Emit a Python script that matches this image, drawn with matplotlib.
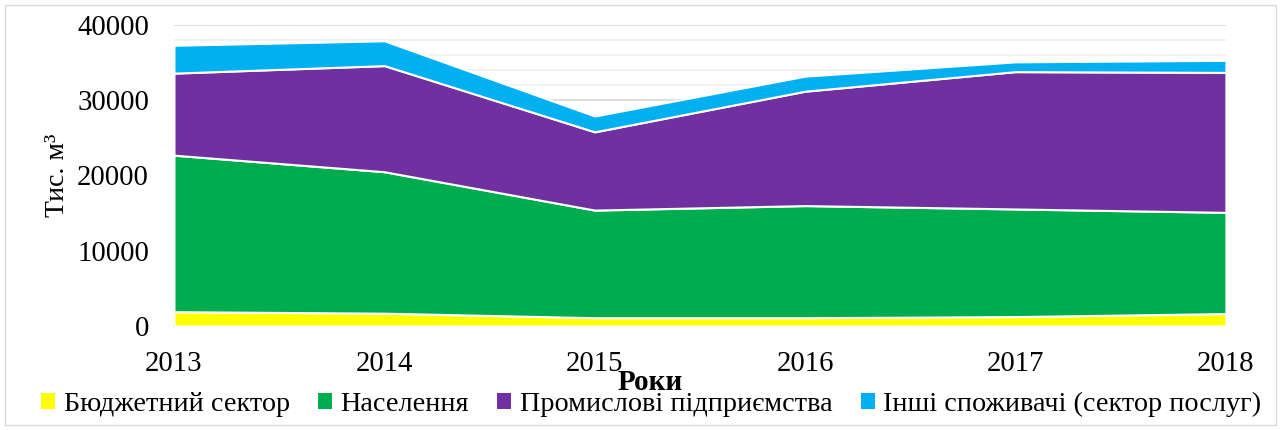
import matplotlib.pyplot as plt
from matplotlib.patches import Rectangle
from matplotlib.ticker import MultipleLocator

plt.rcParams['font.family'] = ['Liberation Serif', 'DejaVu Serif']

years = [2013, 2014, 2015, 2016, 2017, 2018]
budget = [1900, 1700, 1100, 1100, 1250, 1650]
population = [20800, 18800, 14300, 14900, 14300, 13450]
industry = [10900, 14100, 10400, 15200, 18250, 18600]
others = [3700, 3300, 2100, 2000, 1300, 1600]

labels = ['Бюджетний сектор', 'Населення', 'Промислові підприємства',
          'Інші споживачі (сектор послуг)']
colors = ['#ffff00', '#00ad4e', '#7030a0', '#00b0f0']

fig = plt.figure(figsize=(12.81, 4.30), dpi=100)
ax = fig.add_axes([0.1358, 0.2419, 0.8212, 0.70])

ax.stackplot(years, budget, population, industry, others, colors=colors,
             labels=labels, edgecolor='white', linewidth=1.5, zorder=3)

ax.set_xlim(2013, 2018)
ax.set_ylim(0, 40000)
ax.yaxis.set_major_locator(MultipleLocator(10000))
ax.yaxis.set_minor_locator(MultipleLocator(2000))
ax.set_xticks(years)
ax.grid(True, which='major', axis='y', color='#d9d9d9', linewidth=1.2, zorder=0)
ax.grid(True, which='minor', axis='y', color='#f0f0f0', linewidth=1.2, zorder=0)
ax.tick_params(axis='both', which='both', length=0, labelsize=20.7)
ax.tick_params(axis='x', pad=18)
ax.tick_params(axis='y', pad=18)
for s in ['top', 'right', 'left']:
    ax.spines[s].set_visible(False)
ax.spines['bottom'].set_color('#d9d9d9')
ax.spines['bottom'].set_linewidth(1.2)

# axis titles placed where the reference has them
fig.text(57 / 1281, 1 - 175 / 430, 'Тис. м³', fontsize=20, rotation=90,
         ha='center', va='center')
fig.text(650 / 1281, 1 - 383 / 430, 'Роки', fontsize=21, fontweight='bold',
         ha='center', va='center')

leg = fig.legend(loc='center left', bbox_to_anchor=(41 / 1281, 1 - 404 / 430), ncol=4,
                 frameon=False, fontsize=20.3, handlelength=0.5, handleheight=0.5,
                 handletextpad=0.3, columnspacing=1.0, borderaxespad=0, borderpad=0)
for h in leg.legend_handles:
    h.set_edgecolor('none')

fig.patches.append(Rectangle((0.004, 0.012), 0.992, 0.976, transform=fig.transFigure,
                             fill=False, edgecolor='#d9d9d9', linewidth=1))

fig.savefig('out.png', dpi=100)
